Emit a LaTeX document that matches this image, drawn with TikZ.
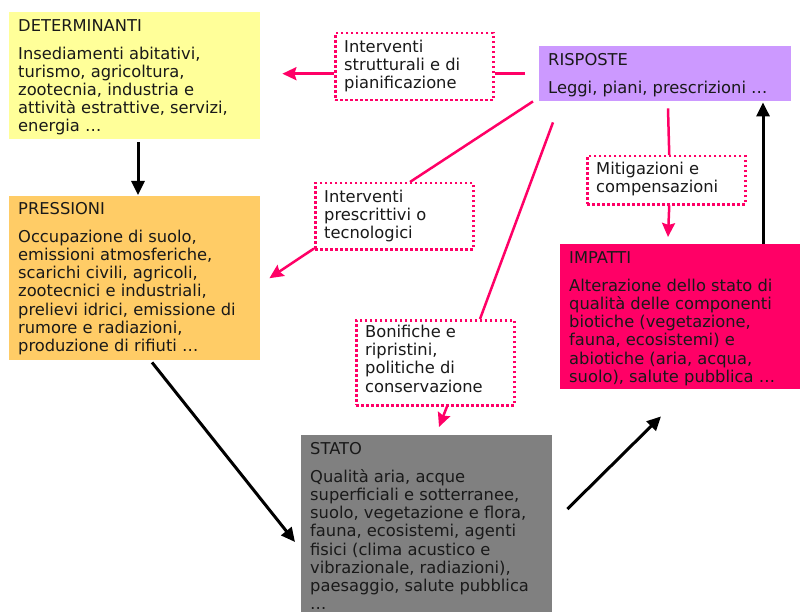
\documentclass[tikz,border=0pt]{standalone}
\usepackage{fontspec}
\setmainfont{DejaVu Sans}
\usetikzlibrary{calc,arrows.meta}
\definecolor{detc}{HTML}{FFFF99}
\definecolor{prec}{HTML}{FFCC66}
\definecolor{risc}{HTML}{CC99FF}
\definecolor{impc}{HTML}{FF0066}
\definecolor{stac}{HTML}{808080}
\definecolor{pink}{HTML}{FF0066}
\newcommand\fl{\rule{0pt}{12bp}}
\tikzset{
  box/.style={rectangle, draw=none, inner sep=0pt, anchor=north west},
  dbox/.style={rectangle, draw=pink, line width=2.5bp, dash pattern=on 2.5bp off 2.5bp, fill=white, inner sep=0pt, anchor=north west},
  txt/.style={inner sep=0pt, anchor=north west, align=left, font=\fontsize{16.3bp}{18.2bp}\selectfont, text=black!90},
  pl/.style={draw=pink, line width=2.5bp},
  pa/.style={pl, -{Stealth[length=14bp,width=13bp,inset=2bp]}},
  ba/.style={draw=black, line width=3bp, -{Triangle[length=14bp,width=13bp]}}
}
\begin{document}
\begin{tikzpicture}[x=1bp,y=-1bp]
\useasboundingbox (0,0) rectangle (800,612);
% main boxes
\node[box, fill=detc, minimum width=251bp, minimum height=127bp] (det) at (9,12) {};
\node[box, fill=prec, minimum width=251bp, minimum height=164bp] (pre) at (9,196) {};
\node[box, fill=risc, minimum width=252bp, minimum height=55bp] (ris) at (539,46) {};
\node[box, fill=impc, minimum width=240bp, minimum height=145bp] (imp) at (560,244) {};
\node[box, fill=stac, minimum width=251bp, minimum height=177bp] (sta) at (301,435) {};
% dotted boxes
\node[dbox, minimum width=158bp, minimum height=67bp] (d1) at (334,32) {};
\node[dbox, minimum width=158bp, minimum height=66bp] (d2) at (314,182) {};
\node[dbox, minimum width=158bp, minimum height=85bp] (d3) at (355,319) {};
\node[dbox, minimum width=158bp, minimum height=48bp] (d4) at (586,155) {};
% texts
\node[txt] (detT) at ($(det.north west)+(9,7)$) {\fl DETERMINANTI\\[9.8bp]
Insediamenti abitativi,\\ turismo, agricoltura,\\ zootecnia, industria e\\ attività estrattive, servizi,\\ energia …};
\node[txt] (preT) at ($(pre.north west)+(9,6)$) {\fl PRESSIONI\\[9.8bp]
Occupazione di suolo,\\ emissioni atmosferiche,\\ scarichi civili, agricoli,\\ zootecnici e industriali,\\ prelievi idrici, emissione di\\ rumore e radiazioni,\\ produzione di rifiuti …};
\node[txt] (risT) at ($(ris.north west)+(9,7)$) {\fl RISPOSTE\\[9.8bp]
Leggi, piani, prescrizioni …};
\node[txt] (impT) at ($(imp.north west)+(9,7)$) {\fl IMPATTI\\[9.8bp]
Alterazione dello stato di\\ qualità delle componenti\\ biotiche (vegetazione,\\ fauna, ecosistemi) e\\ abiotiche (aria, acqua,\\ suolo), salute pubblica …};
\node[txt] (staT) at ($(sta.north west)+(9,7)$) {\fl STATO\\[9.8bp]
Qualità aria, acque\\ superficiali e sotterranee,\\ suolo, vegetazione e flora,\\ fauna, ecosistemi, agenti\\ fisici (clima acustico e\\ vibrazionale, radiazioni),\\ paesaggio, salute pubblica\\ …};
\node[txt] (d1T) at ($(d1.north west)+(10,8)$) {\fl Interventi\\ strutturali e di\\ pianificazione};
\node[txt] (d2T) at ($(d2.north west)+(10,8)$) {\fl Interventi\\ prescrittivi o\\ tecnologici};
\node[txt] (d3T) at ($(d3.north west)+(10,6)$) {\fl Bonifiche e\\ ripristini,\\ politiche di\\ conservazione};
\node[txt] (d4T) at ($(d4.north west)+(10,7)$) {\fl Mitigazioni e\\ compensazioni};
% pink connectors
\draw[pl] ($(ris.west)+(-14,0)$) -- (d1.east |- ris.west);
\draw[pa] (d1.west |- ris.west) -- ($(det.east |- ris.west)+(22,0)$);
\draw[pl] ($(ris.south west)+(-6,0)$) -- ($(d2.north west)+(96,0)$);
\draw[pa] ($(d2.south west)+(0,-2)$) -- ($(pre.east)+(9,0)$);
\draw[pl] ($(ris.south west)+(14,21)$) -- ($(d3.north west)+(125,0)$);
\draw[pa] ($(d3.south west)+(92,0)$) -- ($(sta.north west)+(138,-8)$);
\draw[pl] ($(ris.south west)+(129,7)$) -- ($(d4.north)+(3,0)$);
\draw[pa] ($(d4.south)+(3,0)$) -- ($(imp.north west)+(108,-7)$);
% black connectors
\draw[ba] ($(det.south west)+(129,3)$) -- ($(pre.north west)+(129,-1)$);
\draw[ba] ($(pre.south west)+(143,2)$) -- ($(sta.north west)+(-6,107)$);
\draw[ba] ($(sta.north east)+(15,74)$) -- ($(imp.south west)+(101,27)$);
\draw[ba] ($(imp.north west)+(203,0)$) -- ($(ris.south west)+(224,1)$);
\end{tikzpicture}
\end{document}
